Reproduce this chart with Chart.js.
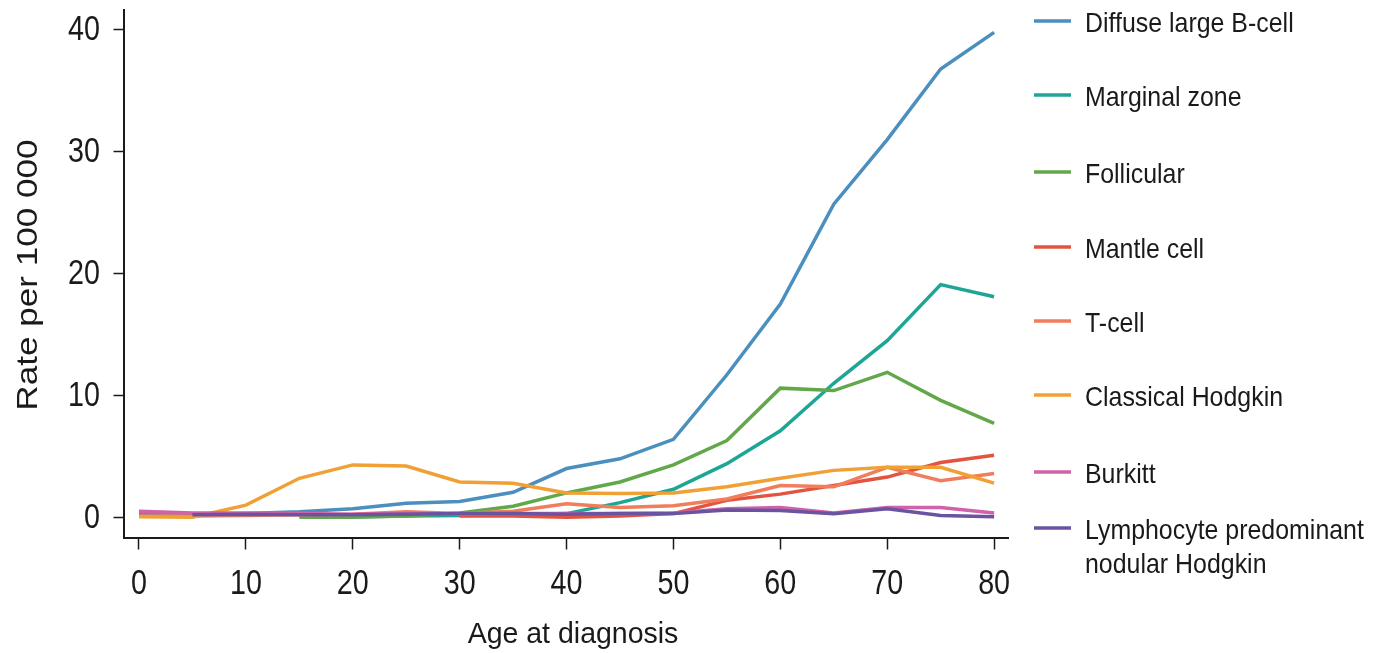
<!DOCTYPE html>
<html>
<head>
<meta charset="utf-8">
<script src="https://cdn.jsdelivr.net/npm/chart.js@4.4.1/dist/chart.umd.min.js"></script>
<style>
  html, body { margin: 0; padding: 0; background: #ffffff; }
  canvas { display: block; }
</style>
</head>
<body>
<canvas id="c" width="1385" height="653"></canvas>
<script>
// ---- Data ----
const ages = [0, 5, 10, 15, 20, 25, 30, 35, 40, 45, 50, 55, 60, 65, 70, 75, 80];
const xTickValues = [0, 10, 20, 30, 40, 50, 60, 70, 80];
const yTickValues = [0, 10, 20, 30, 40];

const diffuseLargeBCell = [0.3, 0.2, 0.3, 0.45, 0.7, 1.15, 1.3, 2.05, 4.0, 4.8, 6.4, 11.7, 17.5, 25.7, 31.0, 36.8, 39.8];
const marginalZone      = [null, null, null, null, 0.05, 0.1, 0.15, 0.2, 0.3, 1.2, 2.3, 4.4, 7.1, 11.0, 14.5, 19.1, 18.1];
const follicular        = [null, null, null, 0.0, 0.0, 0.1, 0.35, 0.9, 2.0, 2.9, 4.3, 6.3, 10.6, 10.4, 11.9, 9.6, 7.7];
const mantleCell        = [null, null, null, null, null, null, 0.1, 0.1, 0.0, 0.1, 0.3, 1.4, 1.9, 2.6, 3.3, 4.5, 5.1];
const tCell             = [0.1, 0.1, 0.15, 0.2, 0.25, 0.45, 0.3, 0.5, 1.1, 0.8, 0.95, 1.5, 2.6, 2.5, 4.1, 3.0, 3.6];
const classicalHodgkin  = [0.05, 0.0, 1.0, 3.2, 4.3, 4.2, 2.9, 2.8, 2.0, 1.95, 2.0, 2.5, 3.2, 3.85, 4.1, 4.1, 2.8];
const burkitt           = [0.5, 0.35, 0.35, 0.3, 0.25, 0.3, 0.25, 0.3, 0.3, 0.3, 0.35, 0.7, 0.8, 0.35, 0.8, 0.8, 0.35];
const lpNodularHodgkin  = [null, 0.2, 0.25, 0.2, 0.2, 0.25, 0.3, 0.3, 0.25, 0.3, 0.3, 0.6, 0.55, 0.3, 0.7, 0.15, 0.05];

const seriesNames = [
  'Diffuse large B-cell',
  'Marginal zone',
  'Follicular',
  'Mantle cell',
  'T-cell',
  'Classical Hodgkin',
  'Burkitt',
  ['Lymphocyte predominant', 'nodular Hodgkin']
];
const xTitle = 'Age at diagnosis';
const yTitle = 'Rate per 100 000';
const seriesValues = [diffuseLargeBCell, marginalZone, follicular, mantleCell, tCell, classicalHodgkin, burkitt, lpNodularHodgkin];
const seriesColors = ['#4a8fbd', '#1fa596', '#62a84b', '#e2543f', '#f07d5c', '#f0a035', '#cf62a9', '#6a54a2'];

// ---- Styles ----
const fam = "'Liberation Sans', Arial, Helvetica, sans-serif";
const ink = '#1a1a1a';
const legendY = [21, 95, 172, 247, 321, 395, 472, 528];

const datasets = seriesValues.map((vals, i) => ({
  label: Array.isArray(seriesNames[i]) ? seriesNames[i].join(' ') : seriesNames[i],
  data: ages.map((a, j) => ({ x: a, y: vals[j] })),
  borderColor: seriesColors[i],
  backgroundColor: seriesColors[i],
  borderWidth: 3.5,
  pointRadius: 0,
  tension: 0,
  fill: false,
  spanGaps: false,
  order: -i
}));

// draw text squeezed horizontally (the reference typography is condensed)
function squeezed(ctx, text, x, y, sx, align) {
  ctx.save();
  ctx.translate(x, y);
  ctx.scale(sx, 1);
  ctx.textAlign = align;
  ctx.fillText(text, 0, 0);
  ctx.restore();
}

const textPlugin = {
  id: 'textLayer',
  afterDraw(chart) {
    const ctx = chart.ctx;
    const xs = chart.scales.x, ys = chart.scales.y;
    ctx.save();
    ctx.fillStyle = ink;
    ctx.textBaseline = 'alphabetic';

    // tick labels
    ctx.font = '35px ' + fam;
    xs.ticks.forEach(t => squeezed(ctx, String(t.value), xs.getPixelForValue(t.value), 594, 0.82, 'center'));
    ys.ticks.forEach(t => squeezed(ctx, String(t.value), 100, ys.getPixelForValue(t.value) + 10.5, 0.82, 'right'));

    // axis titles
    ctx.font = '30px ' + fam;
    squeezed(ctx, xTitle, 573, 643, 0.95, 'center');
    ctx.save();
    ctx.translate(37, 275);
    ctx.rotate(-Math.PI / 2);
    ctx.scale(1.17, 1);
    ctx.textAlign = 'center';
    ctx.fillText(yTitle, 0, 0);
    ctx.restore();

    // legend
    ctx.font = '28px ' + fam;
    seriesNames.forEach((name, i) => {
      const y = legendY[i];
      ctx.strokeStyle = seriesColors[i];
      ctx.lineWidth = 3.5;
      ctx.beginPath();
      ctx.moveTo(1034, y);
      ctx.lineTo(1071, y);
      ctx.stroke();
      const lines = Array.isArray(name) ? name : [name];
      lines.forEach((t, k) => squeezed(ctx, t, 1085, y + 11 + k * 34, 0.89, 'left'));
    });
    ctx.restore();
  }
};

new Chart(document.getElementById('c'), {
  type: 'line',
  data: { datasets },
  options: {
    responsive: false,
    animation: false,
    devicePixelRatio: 1,
    layout: { padding: { top: 10, right: 377, left: 0, bottom: 0 } },
    plugins: { legend: { display: false }, tooltip: { enabled: false } },
    scales: {
      x: {
        type: 'linear',
        min: -1.45,
        max: 81.3,
        afterBuildTicks: (s) => { s.ticks = xTickValues.map(v => ({ value: v })); },
        afterFit: (s) => { s.height = 115.5; s.paddingLeft = 0; s.paddingRight = 0; },
        border: { display: true, color: ink, width: 2 },
        grid: { display: true, drawOnChartArea: false, drawTicks: true, tickLength: 12, tickWidth: 1.5, color: ink },
        ticks: { display: false },
        title: { display: false }
      },
      y: {
        type: 'linear',
        min: -1.66,
        max: 41.64,
        afterBuildTicks: (s) => { s.ticks = yTickValues.map(v => ({ value: v })); },
        afterFit: (s) => { s.width = 123.5; s.paddingTop = 0; s.paddingBottom = 0; },
        border: { display: true, color: ink, width: 2 },
        grid: { display: true, drawOnChartArea: false, drawTicks: true, tickLength: 10, tickWidth: 1.5, color: ink },
        ticks: { display: false },
        title: { display: false }
      }
    }
  },
  plugins: [textPlugin]
});
</script>
</body>
</html>
